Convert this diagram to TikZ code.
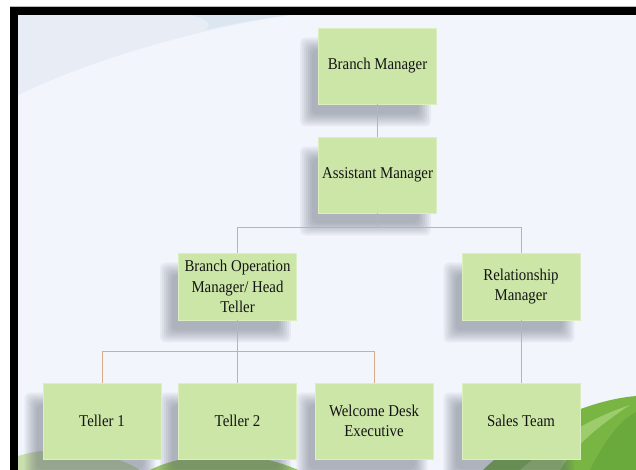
\documentclass[tikz,border=0pt]{standalone}
\usepackage{fontspec}
\setmainfont{Liberation Serif}[FakeStretch=0.9]
\usetikzlibrary{calc}
\definecolor{bgc}{HTML}{F2F5FC}
\definecolor{swc}{HTML}{E7ECF5}
\definecolor{swl}{HTML}{D6E4F0}
\definecolor{boxg}{HTML}{CCE6A8}
\definecolor{boxe}{HTML}{DCEFC0}
\definecolor{lnc}{HTML}{D8AC86}
\definecolor{shc}{HTML}{5A6070}
\definecolor{hilla}{HTML}{C9DFAE}
\definecolor{hillb}{HTML}{96C566}
\definecolor{hillc}{HTML}{78B543}
\definecolor{hilld}{HTML}{A5D276}
\definecolor{hille}{HTML}{5E9E35}
\pgfdeclarelayer{backdrop}
\pgfdeclarelayer{shadowlayer}
\pgfsetlayers{backdrop,shadowlayer,main}
\begin{document}
\begin{tikzpicture}[x=1pt,y=-1pt,
  orgbox/.style={fill=boxg, draw=boxe, line width=0.8pt,
    minimum width=118pt, minimum height=76pt, align=center, inner sep=2pt,
    font=\fontsize{16.5}{20.5}\selectfont, text=black!92},
  lowbox/.style={orgbox, minimum height=67pt},
  shlayer/.style={fill=shc, opacity=0.08, rounded corners=5pt},
  conn/.style={draw=lnc, line width=1pt}]
\useasboundingbox (0,0) rectangle (636,470);
\begin{pgfonlayer}{backdrop}
\fill[white] (0,0) rectangle (636,470);
\fill[bgc] (18,15) rectangle (636,470);
% top-left swoosh
\fill[swc] (18,15) -- (290,15) .. controls (200,28) and (90,60) .. (18,95) -- cycle;
\fill[swl, opacity=0.7] (190,15) -- (290,15) .. controls (260,19) and (230,24) .. (205,30) .. controls (215,24) and (205,18) .. (190,15) -- cycle;
% bottom hills
\fill[hilla] (18,456) .. controls (50,446) and (100,446) .. (140,470) -- (18,470) -- cycle;
\fill[hillb] (150,470) .. controls (185,452) and (250,448) .. (298,470) -- cycle;
\fill[hillc] (483,470) .. controls (530,425) and (590,400) .. (636,396) -- (636,470) -- cycle;
\fill[hilld, opacity=0.8] (520,470) .. controls (555,440) and (590,418) .. (630,405) .. controls (600,425) and (575,445) .. (560,470) -- cycle;
\fill[hille, opacity=0.5] (590,470) .. controls (605,440) and (620,420) .. (636,412) -- (636,470) -- cycle;
% frame
\draw[gray!55, line width=1pt] (10,6.5) -- (636,6.5);
\fill[black] (10,7) rectangle (636,15);
\fill[black] (10,7) rectangle (18,470);
\end{pgfonlayer}
% boxes
\node[orgbox] (bm) at (377.5,66) {Branch Manager};
\node[orgbox] (am) at (377.5,175) {Assistant Manager};
\node[lowbox] (bo) at (237.5,286.5) {Branch Operation\\Manager/ Head\\Teller};
\node[lowbox] (rm) at (521,286.5) {Relationship\\Manager};
\node[orgbox] (t1) at (102,421) {Teller 1};
\node[orgbox] (t2) at (237.5,421) {Teller 2};
\node[orgbox] (wd) at (374,421) {Welcome Desk\\Executive};
\node[orgbox] (st) at (521,421) {Sales Team};
% shadows
\begin{pgfonlayer}{shadowlayer}
\foreach \n in {bm,am,bo,rm,t1,t2,wd,st}{
  \foreach \e in {6,4,2,0,-2,-4,-6}{
    \fill[shlayer] ([xshift=-12pt-\e pt, yshift=-16pt-\e pt]\n.south west)
      rectangle ([xshift=-12pt+\e pt, yshift=-16pt+\e pt]\n.north east);
  }
}
\end{pgfonlayer}
% connectors
\coordinate (j1) at (377.5,227);
\coordinate (j2) at (237.5,351);
\draw[conn] (bm) -- (am);
\draw[conn] (am) -- (j1);
\draw[conn] (j1) -| (bo);
\draw[conn] (j1) -| (rm);
\draw[conn] (bo) -- (j2);
\draw[conn] (j2) -| (t1);
\draw[conn] (j2) -- (t2);
\draw[conn] (j2) -| (wd);
\draw[conn] (rm) -- (st);
\end{tikzpicture}
\end{document}
